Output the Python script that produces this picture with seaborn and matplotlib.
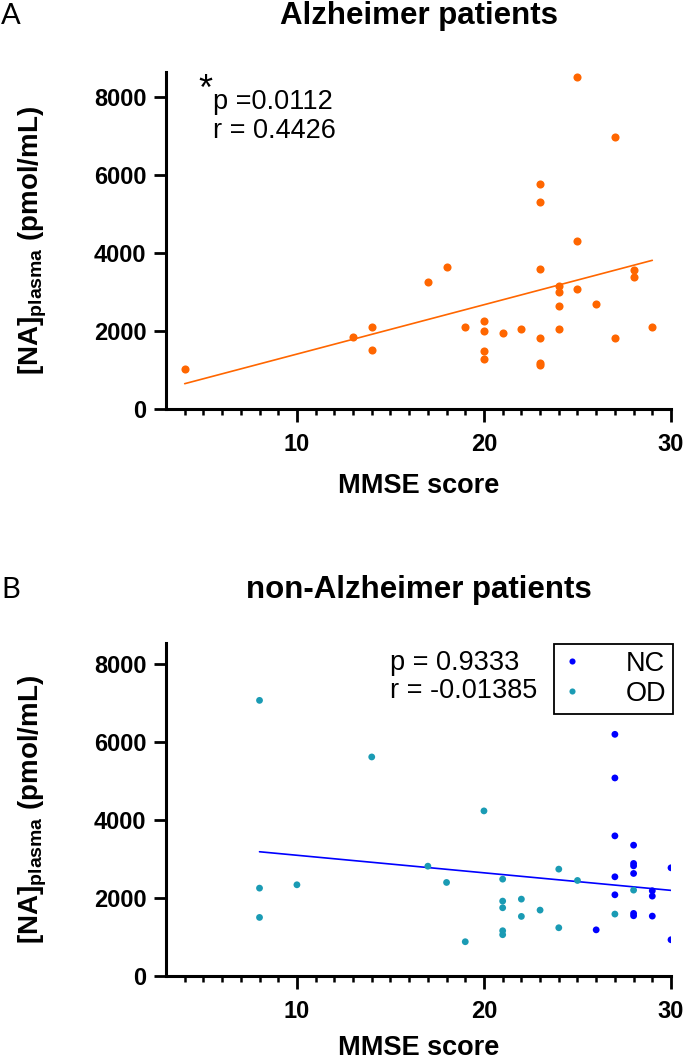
import matplotlib
matplotlib.use('Agg')
import matplotlib.pyplot as plt
import matplotlib.ticker as mticker
import pandas as pd
import seaborn as sns
import numpy as np

# Data
# A: Alzheimer patients
ad_mmse = [4, 13, 14, 14, 17, 18, 19, 20, 20, 20, 20, 21, 22, 23, 23, 23, 23, 23, 23,
           24, 24, 24, 24, 25, 25, 25, 26, 27, 27, 28, 28, 29]
ad_na = [1025, 1845, 2100, 1505, 3255, 3630, 2100, 2255, 2005, 1485, 1280, 1950, 2050,
         5765, 5300, 3585, 1820, 1185, 1125, 3160, 3005, 2630, 2040, 8505, 4295, 3080,
         2690, 6975, 1825, 3570, 3380, 2100]

# B: non-Alzheimer patients (NC = normal controls, OD = other diseases)
nc_mmse = [26, 27, 27, 27, 27, 27, 28, 28, 28, 28, 28, 28, 29, 29, 29, 30, 30]
nc_na = [1185, 6205, 5085, 3598, 2547, 2085, 3359, 2890, 2828, 2633, 1607, 1547,
         2188, 2051, 1538, 2778, 931]
od_mmse = [8, 8, 8, 10, 14, 17, 18, 19, 20, 21, 21, 21, 21, 21, 22, 22, 23, 24, 24,
           25, 27, 28]
od_na = [7077, 2256, 1504, 2342, 5624, 2820, 2402, 880, 4239, 2487, 1923, 1752, 1162,
         1060, 1974, 1530, 1692, 2744, 1239, 2453, 1590, 2205]

stats_a = ['p =0.0112', 'r = 0.4426']
stats_b = ['p = 0.9333', 'r = -0.01385']

orange = '#FF6600'
blue = '#0000FF'
teal = '#1A9BB4'

sns.set_style('ticks')
plt.rcParams['font.family'] = ['Liberation Sans', 'DejaVu Sans']
plt.rcParams['mathtext.fontset'] = 'custom'
plt.rcParams['mathtext.rm'] = 'Liberation Sans'
plt.rcParams['mathtext.bf'] = 'Liberation Sans:bold'
for key in ('text.color', 'axes.labelcolor', 'xtick.color', 'ytick.color', 'axes.edgecolor'):
    plt.rcParams[key] = 'black'

df_a = pd.DataFrame({'mmse': ad_mmse, 'na': ad_na})
df_b = pd.concat([
    pd.DataFrame({'mmse': nc_mmse, 'na': nc_na, 'group': 'NC'}),
    pd.DataFrame({'mmse': od_mmse, 'na': od_na, 'group': 'OD'}),
], ignore_index=True)

W, H = 685, 1060
fig = plt.figure(figsize=(W / 100, H / 100), dpi=100)
ax1 = fig.add_axes([166 / W, 1 - 409 / H, 505 / W, 337 / H])
ax2 = fig.add_axes([166 / W, 1 - 976 / H, 505 / W, 333 / H])

# Panel A
sns.regplot(data=df_a, x='mmse', y='na', ax=ax1, scatter=False, ci=None,
            color=orange, line_kws={'linewidth': 1.2})
sns.scatterplot(data=df_a, x='mmse', y='na', ax=ax1, color=orange, s=34,
                linewidth=0, zorder=3)
ax1.set_ylim(0, 8630)

# Panel B
sns.regplot(data=df_b, x='mmse', y='na', ax=ax2, scatter=False, ci=None,
            color=blue, line_kws={'linewidth': 1.2})
sns.scatterplot(data=df_b, x='mmse', y='na', hue='group', hue_order=['NC', 'OD'],
                palette={'NC': blue, 'OD': teal}, ax=ax2, s=24, linewidth=0, zorder=3)
ax2.set_ylim(0, 8550)

ylab = r'$\mathbf{[NA]_{plasma}}$ (pmol/mL)'
for ax in (ax1, ax2):
    ax.set_xlim(3, 30)
    ax.xaxis.set_major_locator(mticker.FixedLocator([10, 20, 30]))
    ax.xaxis.set_minor_locator(mticker.FixedLocator(range(4, 30)))
    ax.yaxis.set_major_locator(mticker.MultipleLocator(2000))
    sns.despine(ax=ax)
    for sp in ('left', 'bottom'):
        ax.spines[sp].set_linewidth(2.2)
        ax.spines[sp].set_color('black')
    ax.tick_params(which='major', length=9, width=2, color='black', labelsize=17,
                   labelcolor='black')
    ax.tick_params(which='minor', length=4.5, width=1.8, color='black')
    ax.tick_params(axis='x', which='major', pad=8)
    ax.tick_params(axis='y', which='major', pad=5)
    for lab in ax.get_xticklabels() + ax.get_yticklabels():
        lab.set_fontweight('bold')
    ax.set_xlabel('MMSE score', fontsize=19.5, fontweight='bold', color='black')
    ax.set_ylabel(ylab, fontsize=20, fontweight='bold', color='black')
    ax.yaxis.set_label_coords(-0.232, 0.5)

ax1.xaxis.set_label_coords(0.5, -0.19)
ax2.xaxis.set_label_coords(0.5, -0.178)

# stats text
ax1.text(0.065, 0.945, '*', transform=ax1.transAxes, fontsize=26, va='center', ha='left')
ax1.text(0.093, 0.912, stats_a[0], transform=ax1.transAxes, fontsize=19.5, va='center')
ax1.text(0.093, 0.825, stats_a[1], transform=ax1.transAxes, fontsize=19.5, va='center')
ax2.text(0.4436, 0.941, stats_b[0], transform=ax2.transAxes, fontsize=19.5, va='center')
ax2.text(0.4436, 0.856, stats_b[1], transform=ax2.transAxes, fontsize=19.5, va='center')

# legend
handles, labels = ax2.get_legend_handles_labels()
leg = ax2.legend(handles, labels, loc='upper right', bbox_to_anchor=(1.004, 0.997),
                 fontsize=19.5, frameon=True, fancybox=False, edgecolor='black',
                 framealpha=1, borderpad=0.25, labelspacing=0.15, handlelength=0.8,
                 handletextpad=1.6, borderaxespad=0, markerscale=0.9)
leg.get_frame().set_linewidth(1.3)

# titles and panel letters
fig.text(418.5 / W, 1 - 16 / H, 'Alzheimer patients', ha='center', va='center',
         fontsize=22.5, fontweight='bold')
fig.text(418.5 / W, 1 - 590 / H, 'non-Alzheimer patients', ha='center', va='center',
         fontsize=22.5, fontweight='bold')
fig.text(1 / W, 1 - 16 / H, 'A', ha='left', va='center', fontsize=21, color='black',
         family=['Lato', 'DejaVu Sans'])
fig.text(1 / W, 1 - 590 / H, 'B', ha='left', va='center', fontsize=21, color='black',
         family=['Lato', 'DejaVu Sans'])

fig.savefig('out.png', dpi=100)
